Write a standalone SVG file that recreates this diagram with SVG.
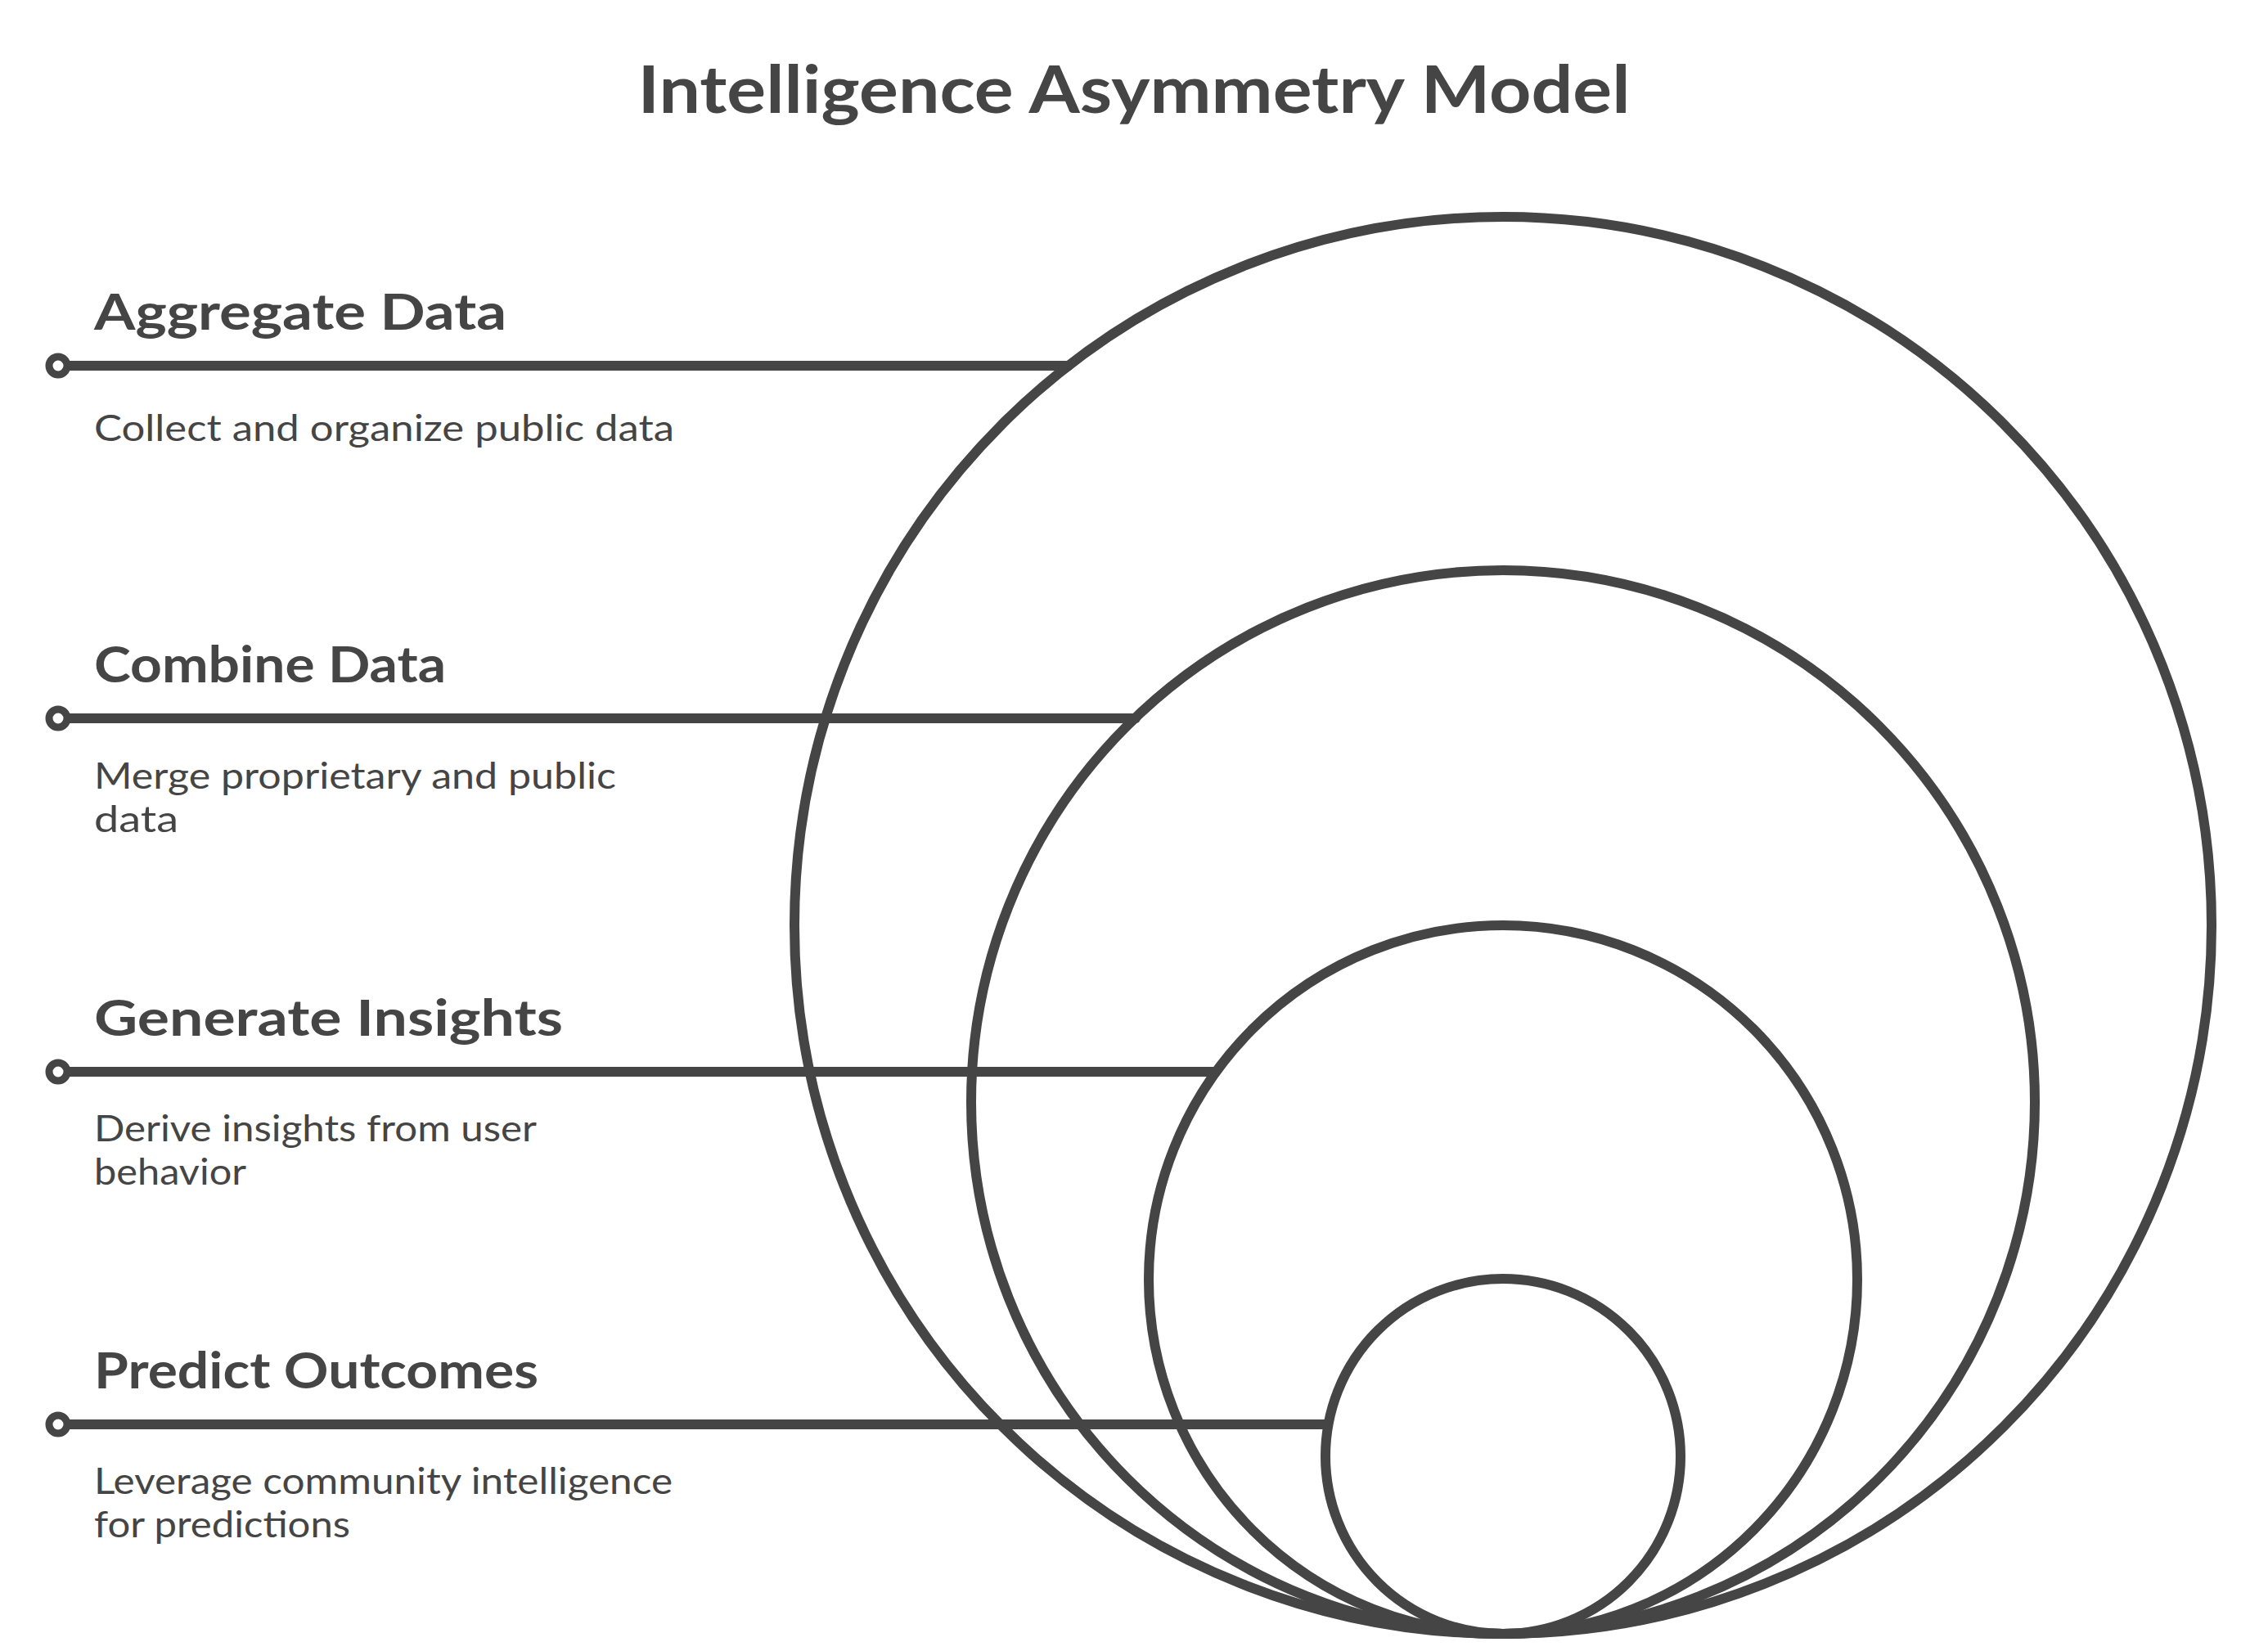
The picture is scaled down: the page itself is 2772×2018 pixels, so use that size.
<svg xmlns="http://www.w3.org/2000/svg" width="2772" height="2018" viewBox="0 0 2772 2018">
  <style>
    .title { font-family: "Lato", "Open Sans", "DejaVu Sans", sans-serif; font-weight: 700; font-size: 80px; fill: #454545; }
    .head { font-family: "Lato", "Open Sans", "DejaVu Sans", sans-serif; font-weight: 700; font-size: 62px; fill: #454545; }
    .desc { font-family: "Lato", "Open Sans", "DejaVu Sans", sans-serif; font-weight: 400; font-size: 44px; fill: #454545; }
    .ring { fill: none; stroke: #454545; stroke-width: 12; }
    .conn { fill: none; stroke: #454545; stroke-width: 12; stroke-linecap: round; }
    .dot { fill: #ffffff; stroke: #454545; stroke-width: 9; }
  </style>
  <rect x="0" y="0" width="2772" height="2018" fill="#ffffff"/>

  <text class="title" x="1386" y="138" text-anchor="middle" textLength="1213" lengthAdjust="spacingAndGlyphs">Intelligence Asymmetry Model</text>

  <g id="rings">
    <circle id="ring-aggregate" class="ring" cx="1837" cy="1131" r="866"/>
    <circle id="ring-combine" class="ring" cx="1837" cy="1347" r="650"/>
    <circle id="ring-insights" class="ring" cx="1837" cy="1564" r="433"/>
    <circle id="ring-predict" class="ring" cx="1837" cy="1780" r="217"/>
  </g>

  <g id="connectors">
    <line class="conn" x1="82" y1="447" x2="1306" y2="447"/>
    <line class="conn" x1="82" y1="878" x2="1388" y2="878"/>
    <line class="conn" x1="82" y1="1310" x2="1486" y2="1310"/>
    <line class="conn" x1="82" y1="1741" x2="1623" y2="1741"/>
    <circle class="dot" cx="71" cy="447" r="11"/>
    <circle class="dot" cx="71" cy="878" r="11"/>
    <circle class="dot" cx="71" cy="1310" r="11"/>
    <circle class="dot" cx="71" cy="1741" r="11"/>
  </g>

  <g id="node-aggregate">
    <text class="head" x="115" y="403" textLength="504" lengthAdjust="spacingAndGlyphs">Aggregate Data</text>
    <text class="desc" x="115" y="539" textLength="709" lengthAdjust="spacingAndGlyphs">Collect and organize public data</text>
  </g>

  <g id="node-combine">
    <text class="head" x="115" y="834" textLength="430" lengthAdjust="spacingAndGlyphs">Combine Data</text>
    <text class="desc" x="115" y="964" textLength="638" lengthAdjust="spacingAndGlyphs">Merge proprietary and public</text>
    <text class="desc" x="115" y="1017" textLength="103" lengthAdjust="spacingAndGlyphs">data</text>
  </g>

  <g id="node-insights">
    <text class="head" x="115" y="1266" textLength="573" lengthAdjust="spacingAndGlyphs">Generate Insights</text>
    <text class="desc" x="115" y="1395" textLength="541" lengthAdjust="spacingAndGlyphs">Derive insights from user</text>
    <text class="desc" x="115" y="1448" textLength="186" lengthAdjust="spacingAndGlyphs">behavior</text>
  </g>

  <g id="node-predict">
    <text class="head" x="115" y="1697" textLength="543" lengthAdjust="spacingAndGlyphs">Predict Outcomes</text>
    <text class="desc" x="115" y="1826" textLength="707" lengthAdjust="spacingAndGlyphs">Leverage community intelligence</text>
    <text class="desc" x="115" y="1879" textLength="313" lengthAdjust="spacingAndGlyphs">for predictions</text>
  </g>
</svg>
